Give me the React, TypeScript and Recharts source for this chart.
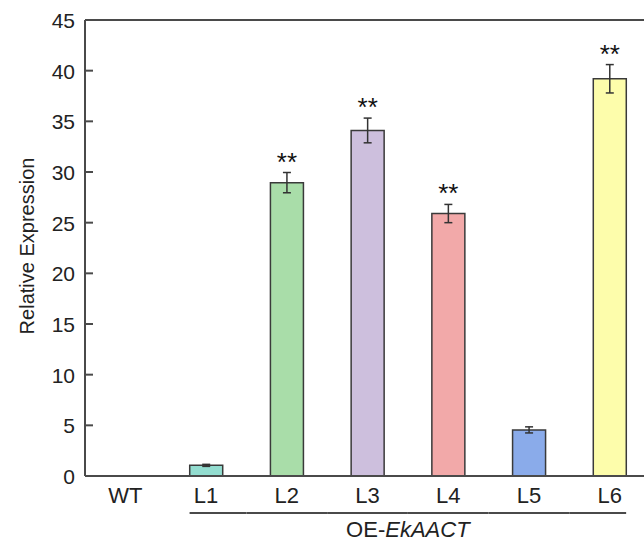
import { Bar, BarChart, Cell, ErrorBar, LabelList, ReferenceLine, XAxis, YAxis } from "recharts";

const lines = ["WT", "L1", "L2", "L3", "L4", "L5", "L6"];
const expression = [0, 1.05, 28.95, 34.1, 25.9, 4.55, 39.2];
const errors = [0, 0.1, 1.0, 1.22, 0.9, 0.3, 1.4];
const signif = ["", "", "**", "**", "**", "", "**"];
const fills = ["#ffffff", "#93ddd0", "#a9dda9", "#cdbfdd", "#f2a9a9", "#8aabea", "#fdfdab"];
const yTicks = [0, 5, 10, 15, 20, 25, 30, 35, 40, 45];

const data = lines.map((name, i) => ({ name, value: expression[i], err: errors[i], sig: signif[i] }));

const AXIS = "#4a4a4a";
const FONT = "'Liberation Sans', Arial, sans-serif";

function YTick(props: any) {
  const { x, y, payload } = props;
  return (
    <g>
      {payload.value !== 0 && payload.value !== 45 && (
        <line x1={x} y1={y} x2={x + 8} y2={y} stroke={AXIS} strokeWidth={2} />
      )}
      <text x={x - 10} y={y + 8} textAnchor="end" fontSize={21} fill="#222" fontFamily={FONT}>
        {payload.value}
      </text>
    </g>
  );
}

function XTick(props: any) {
  const { x, y, payload, index } = props;
  const half = payload.offset ?? 40.3;
  const barHalf = 16.5;
  let x1 = x - half;
  let x2 = x + half;
  if (index === 1) x1 = x - barHalf;
  if (index === lines.length - 1) x2 = x + barHalf;
  return (
    <g>
      <text x={x} y={y + 27} textAnchor="middle" fontSize={22} fill="#222" fontFamily={FONT}>
        {payload.value}
      </text>
      {index >= 1 && <line x1={x1} y1={y + 37} x2={x2} y2={y + 37} stroke={AXIS} strokeWidth={1.8} />}
      {index === 3 && (
        <text x={x + half} y={y + 61} textAnchor="middle" fontSize={22} fill="#222" fontFamily={FONT}>
          OE-<tspan fontStyle="italic">EkAACT</tspan>
        </text>
      )}
    </g>
  );
}

function StarLabel(props: any) {
  const { x, y, width, height, value } = props;
  const d = data.find((r) => r.name === value);
  if (!d || !d.sig || !d.value) return null;
  const perUnit = height / d.value;
  const errTop = y - d.err * perUnit;
  return (
    <text x={x + width / 2} y={errTop - 2} textAnchor="middle" fontSize={26} fill="#111" fontFamily={FONT}>
      {d.sig}
    </text>
  );
}

export default function App() {
  return (
    <div style={{ position: "absolute", left: 0, top: 0, width: 644, height: 544, overflow: "hidden", background: "#fff" }}>
      <BarChart width={650} height={544} data={data} margin={{ top: 20, right: 0, bottom: 0, left: 0 }}>
        <ReferenceLine y={45} stroke={AXIS} strokeWidth={2} />
        <XAxis
          dataKey="name"
          axisLine={{ stroke: AXIS, strokeWidth: 2 }}
          tickLine={false}
          tickSize={0}
          tickMargin={0}
          height={68}
          interval={0}
          tick={<XTick />}
        />
        <YAxis
          domain={[0, 45]}
          ticks={yTicks}
          width={85}
          axisLine={{ stroke: AXIS, strokeWidth: 2 }}
          tickLine={false}
          tickSize={0}
          tickMargin={0}
          tick={<YTick />}
          label={(p: any) => {
            const vb = p.viewBox;
            const cx = 34;
            const cy = vb.y + vb.height / 2 - 2;
            return (
              <text x={cx} y={cy} transform={`rotate(-90 ${cx} ${cy})`} textAnchor="middle" fontSize={20} fill="#222" fontFamily={FONT}>
                Relative Expression
              </text>
            );
          }}
        />
        <Bar dataKey="value" barSize={33} stroke="#3a3a3a" strokeWidth={1.5} isAnimationActive={false}>
          {data.map((d, i) => (
            <Cell key={d.name} fill={fills[i]} strokeOpacity={d.value === 0 ? 0 : 1} />
          ))}
          <ErrorBar dataKey="err" width={4} stroke="#333" strokeWidth={1.5} direction="y" isAnimationActive={false} />
          <LabelList dataKey="name" content={<StarLabel />} />
        </Bar>
      </BarChart>
    </div>
  );
}
